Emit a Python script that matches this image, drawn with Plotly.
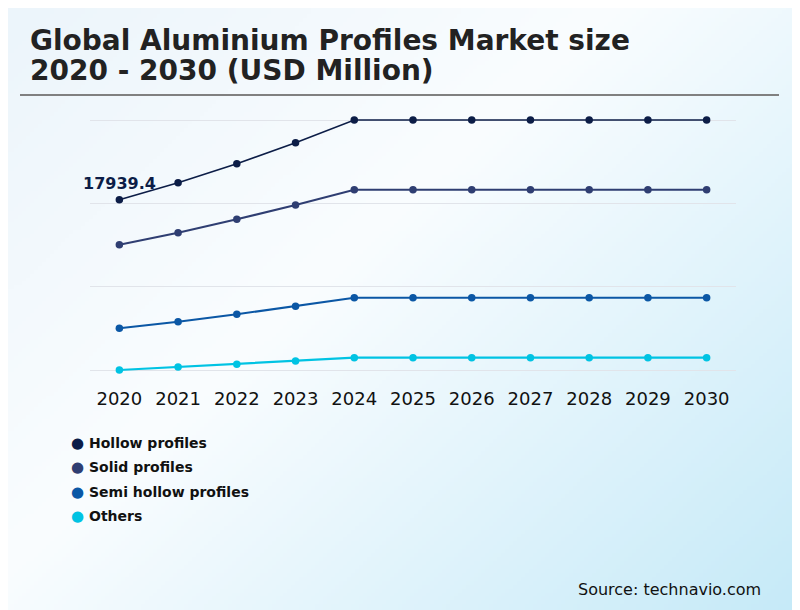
import base64, struct, zlib
import numpy as np
import plotly.graph_objects as go

# ---------------- data ----------------
years = ["2020", "2021", "2022", "2023", "2024", "2025", "2026", "2027", "2028", "2029", "2030"]
series_names = ["Hollow profiles", "Solid profiles", "Semi hollow profiles", "Others"]
hollow = [17939.4, 19640, 21540, 23640, 25910, 25910, 25910, 25910, 25910, 25910, 25910]
solid = [13440, 14640, 15980, 17410, 18940, 18940, 18940, 18940, 18940, 18940, 18940]
semi_hollow = [5080, 5740, 6480, 7280, 8140, 8140, 8140, 8140, 8140, 8140, 8140]
others = [910, 1210, 1480, 1810, 2140, 2140, 2140, 2140, 2140, 2140, 2140]
series_values = [hollow, solid, semi_hollow, others]
colors = ["#0c1d47", "#2f3e72", "#0b57a5", "#00c3e3"]
line_widths = [1.6, 2, 2, 2.2]

# page body has an 8px margin: work in screen coordinates shifted by OFF
OFF = 8
W, H = 792, 602
ML, MR, MT, MB = 82, 64, 109, 237   # plot area padded 3px above/below the data span
PADPX = 3


# ---------------- gradient background (PNG) ----------------
def make_png(w, h):
    xs = np.linspace(0, 1, w)[None, :]
    ys = np.linspace(0, 1, h)[:, None]
    t = (xs * 0.55 + ys * 0.45)
    c0 = np.array([236, 245, 251], float)
    c1 = np.array([250, 253, 255], float)
    c2 = np.array([198, 234, 248], float)
    t = np.clip(t, 0, 1)[..., None]
    a = np.clip(t / 0.42, 0, 1)
    b = np.clip((t - 0.42) / 0.58, 0, 1)
    img = np.where(t < 0.42, c0 + (c1 - c0) * a, c1 + (c2 - c1) * b)
    img = img.astype(np.uint8)
    raw = b"".join(b"\x00" + img[r].tobytes() for r in range(h))

    def chunk(tag, data):
        return struct.pack(">I", len(data)) + tag + data + struct.pack(">I", zlib.crc32(tag + data) & 0xffffffff)

    png = b"\x89PNG\r\n\x1a\n" + chunk(b"IHDR", struct.pack(">IIBBBBB", w, h, 8, 2, 0, 0, 0))
    png += chunk(b"IDAT", zlib.compress(raw, 9)) + chunk(b"IEND", b"")
    return "data:image/png;base64," + base64.b64encode(png).decode()


bg = make_png(200, 153)

fig = go.Figure()
for name, vals, col, lw in zip(series_names, series_values, colors, line_widths):
    fig.add_trace(go.Scatter(
        x=years, y=vals, name=name, mode="lines+markers",
        line=dict(color=col, width=lw),
        marker=dict(color=col, size=7.5),
        cliponaxis=False, showlegend=False,
    ))

ymin = min(min(v) for v in series_values)
ymax = max(max(v) for v in series_values)
pad = (ymax - ymin) * PADPX / 250.0

fig.update_layout(
    width=W, height=H,
    margin=dict(l=ML, r=MR, t=MT, b=MB),
    paper_bgcolor="rgba(0,0,0,0)",
    plot_bgcolor="rgba(0,0,0,0)",
    font=dict(family="DejaVu Sans", color="#111111"),
    xaxis=dict(
        type="category", range=[-0.5, 10.5], showgrid=False, zeroline=False,
        showline=False, ticks="outside", ticklen=9, tickcolor="rgba(0,0,0,0)",
        tickfont=dict(size=18, color="#111111", family="DejaVu Sans"),
    ),
    yaxis=dict(
        range=[ymin - pad, ymax + pad], tickvals=list(np.linspace(ymin, ymax, 4)),
        showticklabels=False, showgrid=True, gridcolor="#e1e4ea", gridwidth=1,
        zeroline=False, showline=False,
    ),
    images=[dict(source=bg, xref="paper", yref="paper",
                 x=-ML / (W - ML - MR), y=1 + MT / (H - MT - MB),
                 sizex=W / (W - ML - MR), sizey=H / (H - MT - MB),
                 xanchor="left", yanchor="top", sizing="stretch", layer="below")],
)

pw, ph = W - ML - MR, H - MT - MB


def px(x):  # screen x -> paper
    return (x - OFF - ML) / pw


def py(y):  # screen y -> paper
    return (H - MB - (y - OFF)) / ph


title_font = dict(family="DejaVu Sans", size=28, color="#222222")
fig.add_annotation(text="<b>Global Aluminium Profiles Market size</b>", xref="paper", yref="paper",
                   x=px(28), y=py(40), xanchor="left", yanchor="middle", showarrow=False, font=title_font)
fig.add_annotation(text="<b>2020 - 2030 (USD Million)</b>", xref="paper", yref="paper",
                   x=px(28), y=py(70), xanchor="left", yanchor="middle", showarrow=False, font=title_font)
fig.add_shape(type="line", xref="paper", yref="paper", x0=px(20), x1=px(779), y0=py(95), y1=py(95),
              line=dict(color="#808080", width=2))

# value label (category axis annotations use the category index)
fig.add_annotation(text="<b>17939.4</b>", x=0, y=hollow[0], yshift=16, showarrow=False,
                   font=dict(size=16, color="#0c1d47", family="DejaVu Sans"))

# legend
for i, (name, col) in enumerate(zip(series_names, colors)):
    yy = 443 + i * 24.3
    fig.add_annotation(text="●", xref="paper", yref="paper", x=px(77), y=py(yy), xanchor="center",
                       yanchor="middle", showarrow=False, font=dict(size=15, color=col))
    fig.add_annotation(text=f"<b>{name}</b>", xref="paper", yref="paper", x=px(87), y=py(yy),
                       xanchor="left", yanchor="middle", showarrow=False,
                       font=dict(size=14, color="#111111", family="DejaVu Sans"))

fig.add_annotation(text="Source: technavio.com", xref="paper", yref="paper", x=px(763), y=py(589),
                   xanchor="right", yanchor="middle", showarrow=False,
                   font=dict(size=16, color="#111111", family="DejaVu Sans"))

fig.write_html("out.html")
